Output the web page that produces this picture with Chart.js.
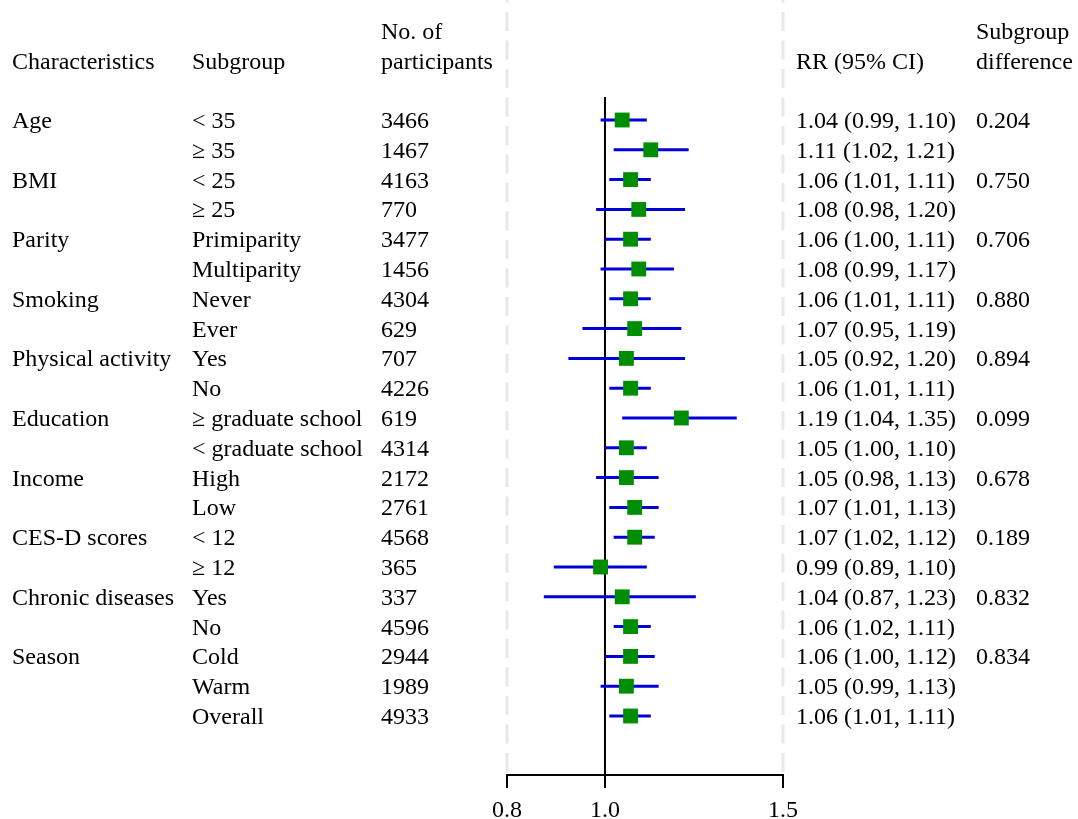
<!DOCTYPE html>
<html>
<head>
<meta charset="utf-8">
<script src="https://cdn.jsdelivr.net/npm/chart.js@4.4.1/dist/chart.umd.min.js"></script>
<style>
  html, body { margin: 0; padding: 0; background: #ffffff; }
  canvas { display: block; }
</style>
</head>
<body>
<canvas id="c" width="1078" height="819"></canvas>
<script>
// ---- data ----
const characteristics = ["Age", "", "BMI", "", "Parity", "", "Smoking", "", "Physical activity", "",
  "Education", "", "Income", "", "CES-D scores", "", "Chronic diseases", "", "Season", "", ""];
const subgroups = ["< 35", "\u2265 35", "< 25", "\u2265 25", "Primiparity", "Multiparity", "Never", "Ever",
  "Yes", "No", "\u2265 graduate school", "< graduate school", "High", "Low", "< 12", "\u2265 12",
  "Yes", "No", "Cold", "Warm", "Overall"];
const participants = [3466, 1467, 4163, 770, 3477, 1456, 4304, 629, 707, 4226, 619, 4314,
  2172, 2761, 4568, 365, 337, 4596, 2944, 1989, 4933];
const rr = [1.04, 1.11, 1.06, 1.08, 1.06, 1.08, 1.06, 1.07, 1.05, 1.06, 1.19, 1.05,
  1.05, 1.07, 1.07, 0.99, 1.04, 1.06, 1.06, 1.05, 1.06];
const ciLow = [0.99, 1.02, 1.01, 0.98, 1.00, 0.99, 1.01, 0.95, 0.92, 1.01, 1.04, 1.00,
  0.98, 1.01, 1.02, 0.89, 0.87, 1.02, 1.00, 0.99, 1.01];
const ciHigh = [1.10, 1.21, 1.11, 1.20, 1.11, 1.17, 1.11, 1.19, 1.20, 1.11, 1.35, 1.10,
  1.13, 1.13, 1.12, 1.10, 1.23, 1.11, 1.12, 1.13, 1.11];
const subgroupDiff = ["0.204", "", "0.750", "", "0.706", "", "0.880", "", "0.894", "",
  "0.099", "", "0.678", "", "0.189", "", "0.832", "", "0.834", "", ""];
const xTicks = [0.8, 1.0, 1.5];
const xTickLabels = ["0.8", "1.0", "1.5"];
const headers = {
  characteristics: ["Characteristics"],
  subgroup: ["Subgroup"],
  participants: ["No. of", "participants"],
  rr: ["RR (95% CI)"],
  diff: ["Subgroup", "difference"]
};

// ---- styling ----
const FAMILY = '"Liberation Serif", "Times New Roman", serif';
const FONT = '24px ' + FAMILY;
const BLUE = '#0000d8';
const GREEN = '#008e00';

const rows = rr.map((_, i) => i);

const ciDatasets = rows.map(i => ({
  type: 'line',
  data: [{ x: ciLow[i], y: i }, { x: ciHigh[i], y: i }],
  borderColor: BLUE,
  borderWidth: 3,
  pointRadius: 0,
  fill: false,
  order: 2
}));

const pointDataset = {
  type: 'scatter',
  data: rows.map(i => ({ x: rr[i], y: i })),
  pointStyle: 'rect',
  pointRadius: 10.5,
  pointHoverRadius: 10.5,
  backgroundColor: GREEN,
  borderColor: GREEN,
  borderWidth: 0,
  order: 1
};

const decor = {
  id: 'decor',
  beforeDatasetsDraw(chart) {
    const { ctx, chartArea, scales } = chart;
    const xs = scales.x, ys = scales.y;
    ctx.save();
    // dashed light guides at axis limits
    ctx.strokeStyle = '#e8e8e8';
    ctx.lineWidth = 3;
    ctx.setLineDash([19, 9.5]);
    ctx.lineDashOffset = 16.5;
    [xTicks[0], xTicks[xTicks.length - 1]].forEach(v => {
      const px = xs.getPixelForValue(v);
      ctx.beginPath();
      ctx.moveTo(px, 0);
      ctx.lineTo(px, chartArea.bottom);
      ctx.stroke();
    });
    // null line at RR = 1
    ctx.setLineDash([]);
    ctx.strokeStyle = '#000';
    ctx.lineWidth = 2;
    const px1 = xs.getPixelForValue(1.0);
    ctx.beginPath();
    ctx.moveTo(px1, ys.getPixelForValue(-0.77));
    ctx.lineTo(px1, chartArea.bottom);
    ctx.stroke();
    ctx.restore();
  },
  afterDraw(chart) {
    const { ctx, scales } = chart;
    const ys = scales.y;
    const colX = { characteristics: 12, subgroup: 192, participants: 381, rr: 796, diff: 976 };
    ctx.save();
    ctx.font = FONT;
    ctx.fillStyle = '#000';
    ctx.textAlign = 'left';
    ctx.textBaseline = 'alphabetic';
    const base = 8;
    rows.forEach(i => {
      const y = ys.getPixelForValue(i) + base;
      if (characteristics[i]) ctx.fillText(characteristics[i], colX.characteristics, y);
      ctx.fillText(subgroups[i], colX.subgroup, y);
      ctx.fillText(String(participants[i]), colX.participants, y);
      ctx.fillText(rr[i].toFixed(2) + ' (' + ciLow[i].toFixed(2) + ', ' + ciHigh[i].toFixed(2) + ')', colX.rr, y);
      if (subgroupDiff[i]) ctx.fillText(subgroupDiff[i], colX.diff, y);
    });
    // headers (bottom line aligned)
    const hBase = 69, hStep = 30;
    Object.keys(headers).forEach(k => {
      const lines = headers[k];
      lines.forEach((t, j) => {
        const y = hBase - (lines.length - 1 - j) * hStep;
        ctx.fillText(t, colX[k], y);
      });
    });
    ctx.restore();
  }
};

new Chart(document.getElementById('c'), {
  data: { datasets: [pointDataset, ...ciDatasets] },
  options: {
    responsive: false,
    animation: false,
    events: [],
    layout: { autoPadding: false, padding: { left: 507, right: 295, top: 0, bottom: 0 } },
    plugins: { legend: { display: false }, tooltip: { enabled: false } },
    scales: {
      x: {
        type: 'logarithmic',
        position: 'bottom',
        min: xTicks[0],
        max: xTicks[xTicks.length - 1],
        afterBuildTicks: s => { s.ticks = xTicks.map(v => ({ value: v })); },
        afterFit: s => { s.height = 44; },
        ticks: {
          autoSkip: false,
          maxRotation: 0,
          padding: 14,
          color: '#000',
          font: { family: FAMILY, size: 24, lineHeight: 0.75 },
          callback: (v, idx) => xTickLabels[idx]
        },
        grid: { drawOnChartArea: false, drawTicks: true, tickLength: 13, color: '#000', lineWidth: 2 },
        border: { display: true, color: '#000', width: 2 }
      },
      y: {
        type: 'linear',
        display: false,
        reverse: true,
        min: -4.027,
        max: 21.98
      }
    }
  },
  plugins: [decor]
});
</script>
</body>
</html>
